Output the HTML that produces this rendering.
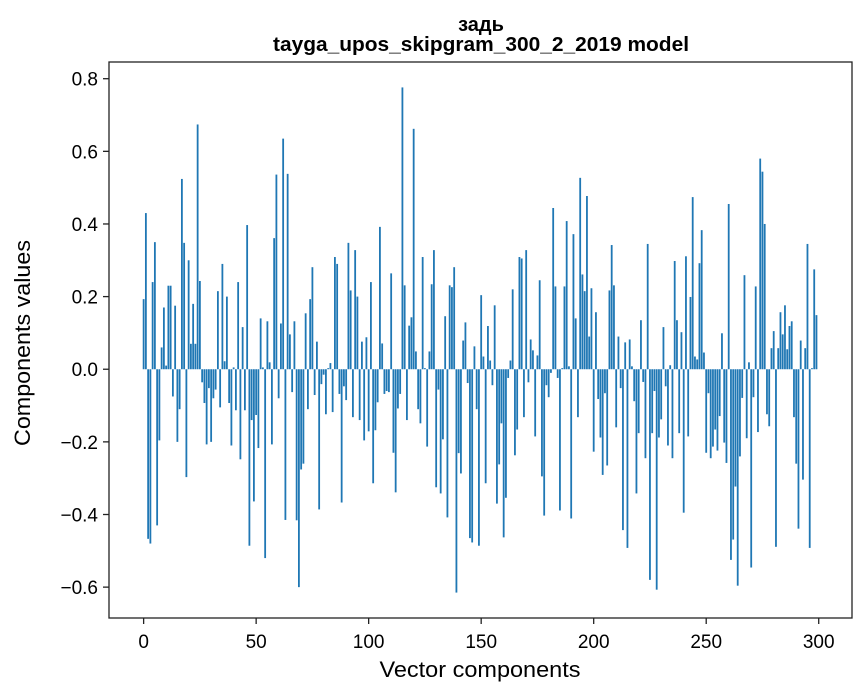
<!DOCTYPE html>
<html><head><meta charset="utf-8"><style>
html,body{margin:0;padding:0;background:#fff;}
svg{display:block;font-family:"Liberation Sans","Noto Sans CJK SC",sans-serif;}
</style></head><body>
<svg id="chart" width="867" height="696" viewBox="0 0 867 696" xmlns="http://www.w3.org/2000/svg">
<rect width="867" height="696" fill="#fff"/>
<text x="481" y="31" text-anchor="middle" font-size="20" font-weight="bold">задь</text>
<text x="481" y="51" text-anchor="middle" font-size="20" font-weight="bold" textLength="416" lengthAdjust="spacingAndGlyphs">tayga_upos_skipgram_300_2_2019 model</text>
<g id="bars"></g>
<g id="xticks"></g>
<g id="yticks"></g>
<rect x="109" y="62" width="743" height="556" fill="none" stroke="#222" stroke-width="1.3"/>
<text x="480" y="677" text-anchor="middle" font-size="22" textLength="201" lengthAdjust="spacingAndGlyphs">Vector components</text>
<text transform="translate(30,343) rotate(-90)" text-anchor="middle" font-size="22" textLength="206" lengthAdjust="spacingAndGlyphs">Components values</text>
</svg>
<script>
const values = [0.193,0.43,-0.467,-0.48,0.24,0.35,-0.43,-0.196,0.06,0.17,
0.01,0.23,0.23,-0.075,0.175,-0.2,-0.11,0.524,0.348,-0.297,
0.30,0.07,0.18,0.07,0.674,0.243,-0.036,-0.093,-0.207,-0.052,
-0.2,-0.08,-0.056,0.215,-0.105,0.29,0.022,0.2,-0.093,-0.21,
0.005,-0.113,0.24,-0.248,0.116,-0.113,0.397,-0.486,-0.14,-0.364,
-0.126,-0.217,0.14,0.005,-0.52,0.132,0.019,-0.207,0.361,0.536,
-0.08,0.126,0.635,-0.415,0.538,0.096,-0.063,0.132,-0.416,-0.6,
-0.276,-0.26,0.154,-0.11,0.193,0.281,-0.071,0.076,-0.386,-0.041,
-0.015,-0.124,0.003,0.017,-0.118,0.309,0.29,-0.068,-0.367,-0.047,
-0.085,0.348,0.217,-0.132,0.328,0.2,-0.14,0.076,-0.196,0.088,
-0.171,0.24,-0.314,-0.168,-0.091,0.392,0.071,-0.068,-0.06,-0.063,
0.264,-0.23,-0.339,-0.108,-0.068,0.776,0.231,-0.14,0.12,0.143,
0.662,0.049,-0.11,-0.149,0.309,0.003,-0.213,0.049,0.234,0.328,
-0.325,-0.056,-0.342,-0.193,0.146,-0.408,0.231,0.226,0.281,-0.615,
-0.231,-0.287,0.079,0.129,-0.038,-0.465,-0.477,0.063,-0.11,-0.486,
0.204,0.035,-0.314,0.119,0.024,-0.044,0.176,-0.37,-0.262,-0.149,
-0.463,-0.354,-0.024,0.024,0.22,-0.237,-0.166,0.309,0.305,-0.132,
0.328,-0.036,0.082,0.052,-0.185,0.038,0.245,-0.295,-0.403,-0.044,
-0.077,-0.01,0.444,0.228,-0.024,-0.389,0.003,0.228,0.408,0.008,
-0.411,0.372,0.14,-0.132,0.527,0.261,0.215,0.477,0.09,0.223,
-0.227,0.157,-0.082,-0.188,-0.291,-0.066,-0.265,0.217,0.342,0.231,
-0.16,0.09,-0.052,-0.443,0.074,-0.492,0.082,0.008,-0.088,-0.342,
-0.176,0.135,-0.035,-0.245,0.345,-0.58,-0.176,-0.06,-0.607,-0.188,
-0.138,0.116,-0.047,-0.21,0.011,-0.245,0.298,0.135,-0.176,0.102,
-0.395,0.311,-0.185,0.199,0.474,0.035,0.027,0.292,0.383,0.046,
-0.23,-0.066,-0.245,-0.213,-0.166,-0.224,-0.129,0.099,-0.202,-0.258,
0.455,-0.525,-0.469,-0.323,-0.596,-0.24,-0.079,0.259,-0.19,0.019,
-0.546,-0.077,0.228,-0.173,0.58,0.544,0.4,-0.124,-0.157,0.058,
0.105,-0.489,0.058,0.157,0.096,0.176,0.055,0.119,0.132,-0.132,
-0.26,-0.439,0.079,-0.304,0.058,0.345,-0.492,0.003,0.275,0.149];
const xTickLabels = [0,50,100,150,200,250,300];
const yTickLabels = [-0.6,-0.4,-0.2,0.0,0.2,0.4,0.6,0.8];

const X0=109, X1=852, Y0=62, Y1=618;
const xmin=-15.39, xmax=314.79, ymin=-0.685, ymax=0.846;
function sx(v){return X0+(v-xmin)/(xmax-xmin)*(X1-X0);}
function sy(v){return Y1-(v-ymin)/(ymax-ymin)*(Y1-Y0);}
const NS="http://www.w3.org/2000/svg";
const bars=document.getElementById('bars');
values.forEach((v,i)=>{
  const r=document.createElementNS(NS,'rect');
  const xl=sx(i-0.4), xr=sx(i+0.4);
  const y=Math.min(sy(v),sy(0)), h=Math.abs(sy(v)-sy(0));
  r.setAttribute('x',xl);r.setAttribute('width',xr-xl);
  r.setAttribute('y',y);r.setAttribute('height',Math.max(h,0.3));
  r.setAttribute('fill','#1f77b4');
  
  
  bars.appendChild(r);
});
const xt=document.getElementById('xticks');
xTickLabels.forEach(t=>{
  const x=sx(t);
  const l=document.createElementNS(NS,'line');
  l.setAttribute('x1',x);l.setAttribute('x2',x);l.setAttribute('y1',Y1);l.setAttribute('y2',Y1+6);
  l.setAttribute('stroke','#222');l.setAttribute('stroke-width','1.3');
  
  
  xt.appendChild(l);
  const tx=document.createElementNS(NS,'text');
  tx.setAttribute('x',x);tx.setAttribute('y',648);tx.setAttribute('text-anchor','middle');tx.setAttribute('font-size','19');
  tx.textContent=String(t);
  
  
  xt.appendChild(tx);
});
const yt=document.getElementById('yticks');
yTickLabels.forEach(t=>{
  const y=sy(t);
  const l=document.createElementNS(NS,'line');
  l.setAttribute('x1',X0-6);l.setAttribute('x2',X0);l.setAttribute('y1',y);l.setAttribute('y2',y);
  l.setAttribute('stroke','#222');l.setAttribute('stroke-width','1.3');
  
  
  yt.appendChild(l);
  const tx=document.createElementNS(NS,'text');
  tx.setAttribute('x',98);tx.setAttribute('y',y+7);tx.setAttribute('text-anchor','end');tx.setAttribute('font-size','19');
  tx.textContent=(t<0?'\u2212':'')+Math.abs(t).toFixed(1);
  
  
  yt.appendChild(tx);
});
</script>
</body></html>
